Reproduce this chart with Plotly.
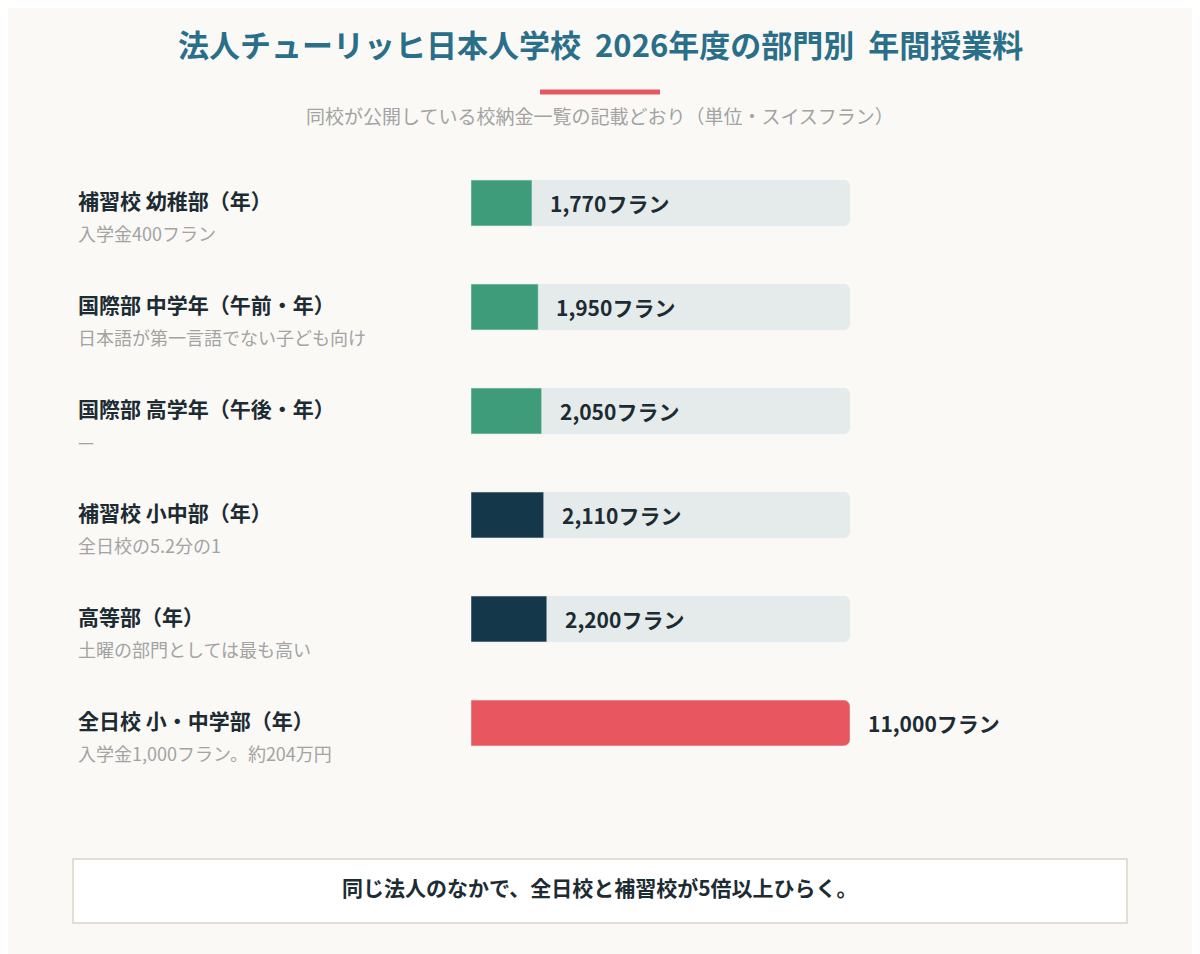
import plotly.graph_objects as go

labels = ["補習校 幼稚部（年）", "国際部 中学年（午前・年）", "国際部 高学年（午後・年）",
          "補習校 小中部（年）", "高等部（年）", "全日校 小・中学部（年）"]
notes = ["入学金400フラン", "日本語が第一言語でない子ども向け", "—",
         "全日校の5.2分の1", "土曜の部門としては最も高い", "入学金1,000フラン。約204万円"]
values = [1770, 1950, 2050, 2110, 2200, 11000]
colors = ["#3e9c7a", "#3e9c7a", "#3e9c7a", "#14374a", "#14374a", "#e85660"]
track_max = 11000

W, H = 1200, 954
OFF = 8  # page body margin
FONT = "Noto Sans CJK JP"
ys = list(range(len(values)))

fig = go.Figure()
fig.add_trace(go.Bar(x=[track_max]*len(values), y=ys, orientation="h", width=0.44,
                     marker=dict(color="#e5ebeb", cornerradius=6), hoverinfo="skip"))
fig.add_trace(go.Bar(x=values, y=ys, orientation="h", width=0.44,
                     marker=dict(color=colors, cornerradius=6)))

def px(x): return (x - OFF) / W
def py(y): return 1 - (y - OFF) / H

ann = []
for i, (lab, note, v) in enumerate(zip(labels, notes, values)):
    cy = 203 + 104 * i
    ann.append(dict(x=px(76), y=py(cy - 3), xref="paper", yref="paper", text=f"<b>{lab}</b>",
                    showarrow=False, xanchor="left", yanchor="middle",
                    font=dict(size=21, color="#1d2b33", family=FONT)))
    ann.append(dict(x=px(76), y=py(cy + 30), xref="paper", yref="paper", text=note,
                    showarrow=False, xanchor="left", yanchor="middle",
                    font=dict(size=18, color="#a3a3a3", family=FONT)))
    ann.append(dict(x=v, y=i, xref="x", yref="y", text=f"<b>{v:,}フラン</b>", xshift=16,
                    showarrow=False, xanchor="left", yanchor="middle",
                    font=dict(size=21, color="#1d2b33", family=FONT)))

ann.append(dict(x=px(600), y=py(43), xref="paper", yref="paper", yanchor="middle",
                text="<b>法人チューリッヒ日本人学校  2026年度の部門別  年間授業料</b>",
                showarrow=False, font=dict(size=31, color="#2a6f8a", family=FONT)))
ann.append(dict(x=px(600), y=py(116), xref="paper", yref="paper", yanchor="middle",
                text="同校が公開している校納金一覧の記載どおり（単位・スイスフラン）",
                showarrow=False, font=dict(size=19, color="#a3a3a3", family=FONT)))
ann.append(dict(x=px(600), y=py(887), xref="paper", yref="paper", yanchor="middle",
                text="<b>同じ法人のなかで、全日校と補習校が5倍以上ひらく。</b>",
                showarrow=False, font=dict(size=21, color="#1d2b33", family=FONT)))

shapes = [
    dict(type="line", xref="paper", yref="paper", x0=px(540), x1=px(660), y0=py(92), y1=py(92),
         line=dict(color="#e85660", width=5)),
    dict(type="rect", xref="paper", yref="paper", x0=px(73), x1=px(1127), y0=py(923), y1=py(859),
         fillcolor="white", line=dict(color="#e3ded5", width=2), layer="below"),
]

fig.update_layout(
    width=W, height=H, margin=dict(l=0, r=0, t=0, b=0),
    paper_bgcolor="#faf9f6", plot_bgcolor="rgba(0,0,0,0)",
    barmode="overlay", showlegend=False, annotations=ann, shapes=shapes,
    xaxis=dict(domain=[px(471), px(850)], range=[0, track_max], visible=False, fixedrange=True),
    yaxis=dict(domain=[py(775), py(151)], range=[5.5, -0.5], visible=False, fixedrange=True),
    font=dict(family=FONT),
)
fig.write_html("out.html")
